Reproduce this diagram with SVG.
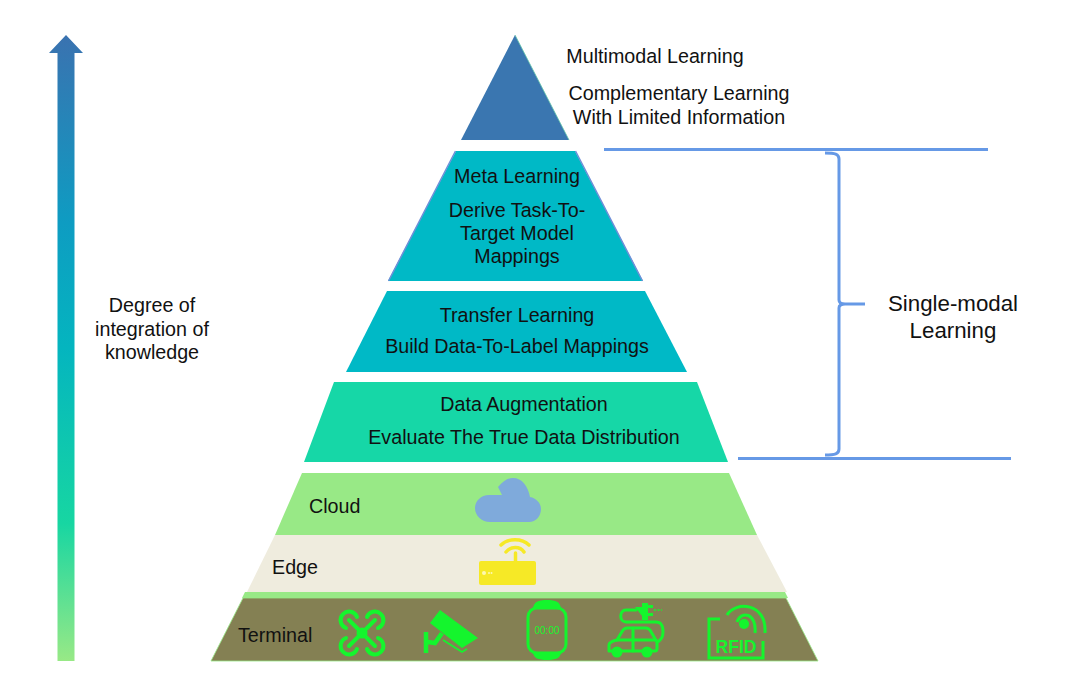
<svg xmlns="http://www.w3.org/2000/svg" width="1080" height="694" viewBox="0 0 1080 694">
<style>
text{font-family:"Liberation Sans",Arial,sans-serif;font-size:19.700px;fill:#111;text-anchor:middle}
.ls{text-anchor:start}
.big{font-size:22.300px}
.line{fill:none;stroke:#6699e6;stroke-width:3}
.ic{fill:none;stroke:#14f52d;stroke-width:3;stroke-linecap:round;stroke-linejoin:round}
.if{fill:#14f52d}
</style>
<defs>
<linearGradient id="up" gradientUnits="userSpaceOnUse" x1="0" y1="35" x2="0" y2="661">
<stop offset="0" stop-color="#3a72b0"/>
<stop offset="0.3" stop-color="#0e9cc2"/>
<stop offset="0.5" stop-color="#04b5bf"/>
<stop offset="0.78" stop-color="#17d6a2"/>
<stop offset="1" stop-color="#98e986"/>
</linearGradient>
</defs>
<rect width="1080" height="694" fill="#fff"/>
<g id="axis">
<path d="M66 35 83 53H74.500V661H57.500V53H49Z" fill="url(#up)"/>
<text x="152" y="312">Degree of</text>
<text x="152" y="336">integration of</text>
<text x="152" y="359">knowledge</text>
</g>
<g id="multimodal">
<path d="M515 35 569 140H461Z" fill="#3a76b0"/>
<path d="M515 35 569 140" fill="none" stroke="#5fc4a8" stroke-width="0.8"/>
<text x="655" y="63">Multimodal Learning</text>
<text x="679" y="100">Complementary Learning</text>
<text x="679" y="124">With Limited Information</text>
</g>
<g id="meta">
<path d="M456 151H575L643 281H388Z" fill="#00b9c6"/>
<path d="M455.500 151 388.500 281M575.500 151 642.500 281" fill="none" stroke="#6f8fd8" stroke-width="1.500"/>
<text x="517" y="183">Meta Learning</text>
<text x="517" y="217">Derive Task-To-</text>
<text x="517" y="240">Target Model</text>
<text x="517" y="263">Mappings</text>
</g>
<g id="transfer">
<path d="M387 291H645L687 372H346Z" fill="#00b9c6"/>
<text x="517" y="322">Transfer Learning</text>
<text x="517" y="353">Build Data-To-Label Mappings</text>
</g>
<g id="augmentation">
<path d="M334 382H697L728 462H304Z" fill="#16d7a7"/>
<text x="524" y="411">Data Augmentation</text>
<text x="524" y="444">Evaluate The True Data Distribution</text>
</g>
<g id="cloud">
<path d="M302 473H729L757 535H275Z" fill="#98e986"/>
<text class="ls" x="309" y="513">Cloud</text>
<path d="M490 522C482 522 475 516 475 508C475 501 481 495 489 495H502L498 487C503 481 508 478 513 478C522 478 528 486 530 497C536 498 541 503 541 509C541 516 536 522 529 522Z" fill="#7faadb"/>
</g>
<g id="edge">
<path d="M275 535H757L787 592H247Z" fill="#efecde"/>
<text class="ls" x="272" y="574">Edge</text>
<rect x="479" y="561" width="57" height="24" rx="2" fill="#f6e926"/>
<circle cx="484" cy="573" r="2" fill="#fdf8b0"/><circle cx="489" cy="573" r="1" fill="#fdf8b0"/><circle cx="491.500" cy="573" r="1" fill="#fdf8b0"/>
<path d="M515.500 561V553M506 552C511 546 520 546 524 552M501 545C508 538 522 538 529 545" fill="none" stroke="#f6e926" stroke-width="3.500" stroke-linecap="round"/>
</g>
<g id="strip"><path d="M245 592H785L788 598H242Z" fill="#98e986"/></g>
<g id="terminal">
<path d="M243 598H786L818 661H211Z" fill="#848053" stroke="#98e986" stroke-width="0.800"/>
<text class="ls" x="238" y="642">Terminal</text>
<g id="drone" class="ic">
<path d="M349 620 375 646M375 620 349 646" stroke-width="4"/>
<circle cx="362" cy="633" r="5.500" class="if" stroke="none"/>
<path d="M357 617A8.500 8.500 0 1 0 346 628M367 617A8.500 8.500 0 1 1 378 628M357 649A8.500 8.500 0 1 1 346 638M367 649A8.500 8.500 0 1 0 378 638" stroke-width="4"/>
</g>
<g id="camera">
<path d="M430 623 440 610 478 638 462 648Z" class="if"/>
<path d="M426 632V653M428 642 435 643 442 633" fill="none" stroke="#14f52d" stroke-width="4.500"/>
<path d="M443 640 462 652 467 649" fill="none" stroke="#14f52d" stroke-width="1.500"/>
</g>
<g id="watch">
<rect x="528" y="608" width="38" height="45" rx="9" class="ic" stroke-width="2.500"/>
<path d="M533 608C534 602 538 600 547 600S560 602 561 608ZM533 653C534 658 538 660 547 660S560 658 561 653Z" class="if"/>
<text x="547" y="634" style="font-size:10px;fill:#14f52d">00:00</text>
</g>
<g id="car">
<path d="M609 651V645C609 642 613 641 617 640L623 630C624 629 625 628 627 628H646C648 628 649 629 650 630L657 642V648C657 650 656 651 655 651Z" class="ic" stroke-width="2"/>
<path d="M617 640H656M633 628V651" class="ic" stroke-width="1.500"/>
<circle cx="617" cy="652" r="5.500" class="if"/><circle cx="647" cy="652" r="5.500" class="if"/>
<path d="M657 642C662 640 663 636 663 632C663 625 661 622 656 622H626C619 622 619 610 626 610H636" class="ic" stroke-width="2"/>
<path d="M635 607H642V603H648V605H653V608H648V613H653V616H648V620H642V616Z" class="if"/>
<path d="M654 610H662" fill="none" stroke="#14f52d" stroke-width="1.500" stroke-dasharray="2 1.500"/>
</g>
<g id="rfid">
<path d="M720 619H709V658H763V641" fill="none" stroke="#14f52d" stroke-width="3"/>
<path d="M727 615C735 601 767 602 765 633M737 622C741 610 757 613 755 633" fill="none" stroke="#14f52d" stroke-width="3"/>
<circle cx="744" cy="624" r="5" class="if"/>
<text x="736" y="653" style="font-size:17.500px;font-weight:bold;fill:#14f52d">RFID</text>
</g>
</g>
<g id="connectors">
<path class="line" d="M604 149.500H988M738 458.500H1011"/>
<path class="line" d="M825 153C835 153 839 154 839 159V300C839 303 841 304 845 304H865M845 304C841 304 839 305 839 308V449C839 454 835 455 825 455"/>
</g>
<g id="single-modal">
<text class="big" x="953" y="311">Single-modal</text>
<text class="big" x="953" y="338">Learning</text>
</g>
</svg>
